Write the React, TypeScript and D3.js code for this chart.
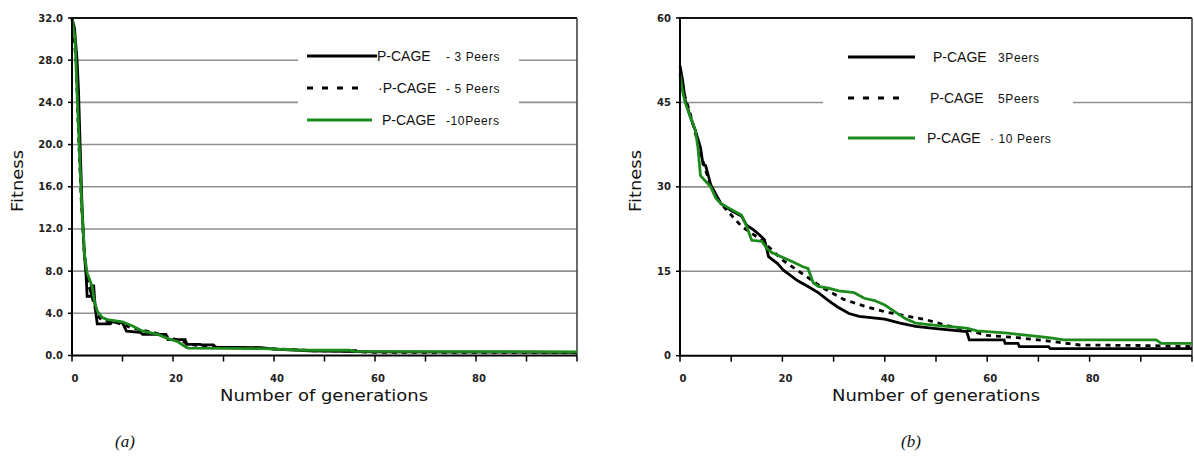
import React from "react";
import * as d3 from "d3";

// ---- Panel (a): fitness vs. generations, y in [0, 32] ----
const genA3 = [0, 0.5, 1, 1.3, 1.6, 2, 2.4, 2.8, 3, 3.8, 3.8, 4.3, 4.6, 5, 7.6, 7.8, 10, 10.8, 13.5, 14, 18.6, 19, 22.4, 22.6, 25.4, 25.6, 28, 28.4, 37.5, 40, 47, 60, 100];
const fitA3 = [32, 31, 28, 25, 20, 14, 10, 7.5, 5.6, 5.6, 6.6, 6.6, 4.5, 3.0, 3.0, 3.2, 3.1, 2.3, 2.2, 2.0, 2.0, 1.5, 1.5, 1.05, 1.05, 1.0, 1.0, 0.8, 0.75, 0.6, 0.45, 0.35, 0.3];

const genA5 = [0, 0.8, 1.2, 1.8, 2.4, 3, 4, 5, 6, 9, 12, 16, 20, 24, 28, 36, 45, 47, 56.5, 57, 60, 100];
const fitA5 = [32, 28, 22, 15, 10, 7.2, 5.5, 3.8, 3.3, 3.1, 2.6, 2.2, 1.6, 1.0, 0.8, 0.7, 0.55, 0.45, 0.45, 0.35, 0.3, 0.3];

const genA10 = [0, 0.6, 1, 1.5, 2, 2.5, 3, 3.5, 4, 4.5, 5, 6, 7, 10, 12, 14, 17, 19, 21, 22.5, 23, 38, 46, 55, 56, 100];
const fitA10 = [32, 30, 25, 19, 13.5, 9.5, 7.8, 7.2, 6.5, 5, 4.2, 3.6, 3.4, 3.2, 2.8, 2.3, 2.0, 1.6, 1.3, 0.8, 0.7, 0.65, 0.5, 0.5, 0.4, 0.35];

// ---- Panel (b): fitness vs. generations, y in [0, 60] ----
const genB3 = [0, 0.5, 1, 2, 3, 4, 4.5, 5, 6, 8, 10, 12, 13, 14.3, 15.5, 16.5, 17.3, 19, 20.2, 21.5, 23, 25, 27, 29, 30.7, 33, 35, 40, 43, 46, 50, 56, 56.5, 63.3, 63.5, 66, 66.3, 72, 72.3, 100];
const fitB3 = [51.5, 49, 45.5, 42.5, 40, 37, 34, 33.8, 30.4, 27, 25.8, 24.8, 23.2, 22.4, 21.5, 20.6, 17.6, 16.4, 15.2, 14.3, 13.3, 12.3, 11.2, 9.8, 8.7, 7.5, 7.0, 6.5, 5.8, 5.2, 4.8, 4.3, 2.8, 2.8, 2.2, 2.2, 1.6, 1.6, 1.25, 1.25];

const genB5 = [0, 1, 2, 4, 5, 6, 8, 12, 16, 20, 24, 28, 32, 36, 40, 44, 48, 52, 56, 60, 66, 72, 78, 92, 100];
const fitB5 = [50, 46, 43, 36, 33, 30, 27, 23, 20.5, 17, 14.5, 12, 10, 8.8, 7.8, 7.1, 6.4, 5.4, 4.6, 3.6, 3.2, 2.6, 1.9, 1.8, 1.6];

const genB10 = [0, 0.5, 1, 2, 3, 3.5, 4, 5, 6, 7, 8, 10, 12, 13, 14, 16, 17, 18, 20, 22, 24, 25, 26, 27, 29, 31, 34, 36, 38, 40, 42, 44, 46, 50, 56, 58, 64, 68, 72, 75, 93, 94, 100];
const fitB10 = [50, 47, 45, 42.5, 40, 37, 32, 31, 30, 28, 27, 26, 25, 23, 20.5, 20.3, 19, 18.3, 17.5, 16.7, 15.8, 15.5, 13, 12.3, 12, 11.5, 11.2, 10.2, 9.8, 9, 7.8, 6.6, 5.8, 5.4, 4.9, 4.4, 4.0, 3.6, 3.2, 2.8, 2.8, 2.2, 2.2];

// ---- Axis ticks ----
const xTickMarks = [0, 10, 20, 30, 40, 50, 60, 70, 80, 90, 100];
const xTickLabels = [0, 20, 40, 60, 80];
const yTicksA = [0, 4, 8, 12, 16, 20, 24, 28, 32];
const yTicksB = [0, 15, 30, 45, 60];

const GREEN = "#1d8a1d";
const GRID = "#8f8f8f";

type Series = { gen: number[]; fit: number[]; color: string; dash?: string };

type LegendRow = { name: string; peers: string; textX: number; peersX: number; lineEnd: number };

type PanelProps = {
  x0: number;
  x1: number;
  y0: number;
  y1: number;
  yMax: number;
  yTicks: number[];
  yFmt: (v: number) => string;
  series: Series[];
  legendBox: [number, number, number, number];
  legendLineStart: number;
  legendRowsY: number[];
  legendRows: LegendRow[];
  fitnessX: number;
  titleX: number;
  caption: string;
  captionX: number;
};

function Panel(p: PanelProps) {
  const x = d3.scaleLinear().domain([0, 100]).range([p.x0, p.x1]);
  const y = d3.scaleLinear().domain([0, p.yMax]).range([p.y1, p.y0]);
  const line = d3
    .line<[number, number]>()
    .x((d) => x(d[0]))
    .y((d) => y(d[1]));

  const [lbx, lby, lbw, lbh] = p.legendBox;
  const legendStyles = [
    { color: "#000", dash: undefined as string | undefined },
    { color: "#000", dash: "6 9" },
    { color: GREEN, dash: undefined as string | undefined },
  ];

  return (
    <g>
      {/* horizontal grid */}
      {p.yTicks
        .filter((t) => t !== 0 && t !== p.yMax)
        .map((t) => (
          <line key={"g" + t} x1={p.x0} x2={p.x1} y1={y(t)} y2={y(t)} stroke={GRID} strokeWidth={1.6} />
        ))}
      {/* legend background hides the grid behind it */}
      <rect x={lbx} y={lby} width={lbw} height={lbh} fill="#fff" />
      {/* frame */}
      <line x1={p.x0} x2={p.x1} y1={p.y0} y2={p.y0} stroke="#111" strokeWidth={2} />
      <line x1={p.x1} x2={p.x1} y1={p.y0} y2={p.y1} stroke="#444" strokeWidth={1.6} />

      {/* data */}
      {p.series.map((s, i) => (
        <path
          key={"s" + i}
          d={line(s.gen.map((g, j) => [g, s.fit[j]] as [number, number])) || ""}
          fill="none"
          stroke={s.color}
          strokeWidth={2.8}
          strokeDasharray={s.dash}
          strokeLinejoin="miter"
        />
      ))}

      {/* axes */}
      <line x1={p.x0} x2={p.x0} y1={p.y0 - 1} y2={p.y1 + 1} stroke="#000" strokeWidth={2} />
      <line x1={p.x0} x2={p.x1} y1={p.y1} y2={p.y1} stroke="#000" strokeWidth={2} />
      {p.yTicks.map((t) => (
        <g key={"yt" + t}>
          <line x1={p.x0 - 4} x2={p.x0} y1={y(t)} y2={y(t)} stroke="#000" strokeWidth={1.5} />
          <text
            x={p.x0 - 9}
            y={y(t)}
            dy="0.35em"
            textAnchor="end"
            fontFamily="DejaVu Sans"
            fontWeight="bold"
            fontSize={10}
            fill="#222"
          >
            {p.yFmt(t)}
          </text>
        </g>
      ))}
      {xTickMarks.map((t) => (
        <line key={"xt" + t} x1={x(t)} x2={x(t)} y1={p.y1} y2={p.y1 + 6} stroke="#000" strokeWidth={1.5} />
      ))}
      {xTickLabels.map((t) => (
        <text
          key={"xl" + t}
          x={x(t) + 3}
          y={p.y1 + 26}
          textAnchor="middle"
          fontFamily="DejaVu Sans"
          fontWeight="bold"
          fontSize={10}
          fill="#222"
        >
          {t}
        </text>
      ))}

      {/* axis titles */}
      <text
        x={p.titleX}
        y={p.y1 + 45}
        textAnchor="middle"
        fontFamily="DejaVu Sans"
        fontSize={16}
        textLength={208}
        lengthAdjust="spacingAndGlyphs"
        fill="#111"
      >
        Number of generations
      </text>
      <text
        transform={`translate(${p.fitnessX},181) rotate(-90)`}
        textAnchor="middle"
        dy="0.35em"
        fontFamily="DejaVu Sans"
        fontSize={16}
        textLength={62}
        lengthAdjust="spacingAndGlyphs"
        fill="#111"
      >
        Fitness
      </text>

      {/* legend */}
      {p.legendRows.map((r, i) => {
        const ly = p.legendRowsY[i];
        const st = legendStyles[i];
        return (
          <g key={"lg" + i}>
            <line
              x1={p.legendLineStart}
              x2={r.lineEnd}
              y1={ly}
              y2={ly}
              stroke={st.color}
              strokeWidth={3}
              strokeDasharray={st.dash}
            />
            <text x={r.textX} y={ly + 5} fontFamily="Liberation Sans" fontSize={14} fill="#111">
              {r.name}
            </text>
            <text x={r.peersX} y={ly + 5} fontFamily="Liberation Sans" fontSize={12} letterSpacing={0.6} fill="#111">
              {r.peers}
            </text>
          </g>
        );
      })}

      {/* caption */}
      <text
        x={p.captionX}
        y={447}
        textAnchor="middle"
        fontFamily="Liberation Serif"
        fontStyle="italic"
        fontSize={17}
        fill="#111"
      >
        {p.caption}
      </text>
    </g>
  );
}

export default function App() {
  return (
    <svg
      width={1194}
      height={460}
      viewBox="0 0 1194 460"
      style={{ position: "absolute", left: 0, top: 0, background: "#fff" }}
    >
      <rect width={1194} height={460} fill="#fff" />
      <Panel
        x0={72}
        x1={577}
        y0={18}
        y1={355.5}
        yMax={32}
        yTicks={yTicksA}
        yFmt={(v) => v.toFixed(1)}
        series={[
          { gen: genA5, fit: fitA5, color: "#000", dash: "5 5" },
          { gen: genA3, fit: fitA3, color: "#000" },
          { gen: genA10, fit: fitA10, color: GREEN },
        ]}
        legendBox={[298, 36, 221, 96]}
        legendLineStart={307}
        legendRowsY={[56, 88, 120]}
        legendRows={[
          { name: "P-CAGE", peers: "- 3 Peers", textX: 377, peersX: 446, lineEnd: 377 },
          { name: "·P-CAGE", peers: "- 5 Peers", textX: 378, peersX: 446, lineEnd: 362 },
          { name: "P-CAGE", peers: "-10Peers", textX: 382, peersX: 446, lineEnd: 372 },
        ]}
        fitnessX={17}
        titleX={324}
        caption="(a)"
        captionX={125}
      />
      <Panel
        x0={680}
        x1={1192}
        y0={18}
        y1={355.7}
        yMax={60}
        yTicks={yTicksB}
        yFmt={(v) => String(v)}
        series={[
          { gen: genB5, fit: fitB5, color: "#000", dash: "5 5" },
          { gen: genB3, fit: fitB3, color: "#000" },
          { gen: genB10, fit: fitB10, color: GREEN },
        ]}
        legendBox={[823, 36, 250, 130]}
        legendLineStart={848}
        legendRowsY={[57, 98, 138]}
        legendRows={[
          { name: "P-CAGE", peers: "3Peers", textX: 933, peersX: 998, lineEnd: 915 },
          { name: "P-CAGE", peers: "5Peers", textX: 930, peersX: 998, lineEnd: 905 },
          { name: "P-CAGE", peers: "· 10 Peers", textX: 927, peersX: 990, lineEnd: 915 },
        ]}
        fitnessX={635}
        titleX={936}
        caption="(b)"
        captionX={911}
      />
    </svg>
  );
}
